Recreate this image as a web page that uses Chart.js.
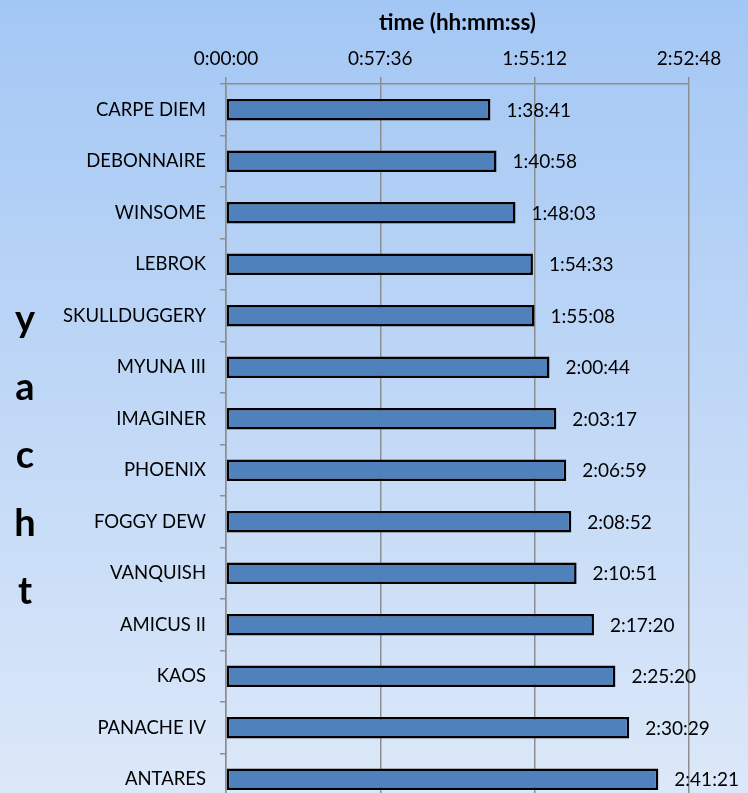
<!DOCTYPE html>
<html>
<head>
<meta charset="utf-8">
<script src="https://cdn.jsdelivr.net/npm/chart.js@4/dist/chart.umd.min.js"></script>
<style>
  html, body { margin: 0; padding: 0; overflow: hidden; width: 748px; height: 793px; background: #dce8f8; }
  #wrap { position: relative; width: 748px; height: 793px; overflow: hidden; }
  #wrap canvas { position: absolute; left: 0; top: 0; }
</style>
</head>
<body>
<div id="wrap"><canvas id="yachts" width="748" height="810"></canvas></div>
<script>
const yachts = [
  'CARPE DIEM', 'DEBONNAIRE', 'WINSOME', 'LEBROK', 'SKULLDUGGERY', 'MYUNA III', 'IMAGINER',
  'PHOENIX', 'FOGGY DEW', 'VANQUISH', 'AMICUS II', 'KAOS', 'PANACHE IV', 'ANTARES'
]
const times = [
  '1:38:41', '1:40:58', '1:48:03', '1:54:33', '1:55:08', '2:00:44', '2:03:17',
  '2:06:59', '2:08:52', '2:10:51', '2:17:20', '2:25:20', '2:30:29', '2:41:21'
]
const tickLabels = ['0:00:00', '0:57:36', '1:55:12', '2:52:48']
const axisTitleX = 'time (hh:mm:ss)'
const axisTitleY = 'yacht'

const toSeconds = (s) => s.split(':').reduce((acc, p) => acc * 60 + Number(p), 0)
const toHms = (sec) => {
  const h = Math.floor(sec / 3600)
  const m = Math.floor((sec % 3600) / 60)
  const s = Math.round(sec % 60)
  return h + ':' + String(m).padStart(2, '0') + ':' + String(s).padStart(2, '0')
}

const seconds = times.map(toSeconds)
const tickValues = tickLabels.map(toSeconds)

const FONT = 'Lato'
const GRID = '#8e8e8e'

// gradient fill behind everything
const background = {
  id: 'background',
  beforeDraw(chart) {
    const { ctx, width, height } = chart
    const g = ctx.createLinearGradient(0, 0, 0, 793)
    g.addColorStop(0, '#a3c7f4')
    g.addColorStop(1, '#dce8f9')
    ctx.save()
    ctx.fillStyle = g
    ctx.fillRect(0, 0, width, height)
    ctx.restore()
  }
}

// time labels at the end of each bar
const barLabels = {
  id: 'barLabels',
  afterDatasetsDraw(chart) {
    const { ctx } = chart
    const meta = chart.getDatasetMeta(0)
    ctx.save()
    ctx.font = '19px ' + FONT
    ctx.fillStyle = '#000'
    ctx.textAlign = 'left'
    ctx.textBaseline = 'middle'
    meta.data.forEach((bar, i) => {
      ctx.fillText(toHms(seconds[i]), bar.x + 16, bar.y + 1)
    })
    ctx.restore()
  }
}

// the y title is written as stacked letters, not rotated
const stackedTitle = {
  id: 'stackedTitle',
  afterDraw(chart) {
    const { ctx } = chart
    ctx.save()
    ctx.font = 'bold 38px ' + FONT
    ctx.fillStyle = '#000'
    ctx.textAlign = 'center'
    ctx.textBaseline = 'alphabetic'
    axisTitleY.split('').forEach((ch, i) => {
      ctx.fillText(ch, 25, 332 + i * 68)
    })
    ctx.restore()
  }
}

const ctx = document.getElementById('yachts')

const chart = new Chart(ctx, {
  type: 'bar',
  data: {
    labels: yachts,
    datasets: [{
      label: axisTitleX,
      data: seconds,
      backgroundColor: '#4f81bd',
      borderColor: '#000',
      borderWidth: 2.5,
      borderSkipped: false,
      barPercentage: 0.42,
      categoryPercentage: 1
    }]
  },
  plugins: [background, barLabels, stackedTitle],
  options: {
    indexAxis: 'y',
    responsive: false,
    devicePixelRatio: 1,
    animation: false,
    layout: { padding: { left: 0, top: 0, right: 59, bottom: 5 } },
    plugins: {
      legend: { display: false },
      tooltip: { enabled: false }
    },
    scales: {
      x: {
        position: 'top',
        min: tickValues[0],
        max: tickValues[tickValues.length - 1],
        afterBuildTicks: (scale) => { scale.ticks = tickValues.map(v => ({ value: v })) },
        afterFit: (scale) => { scale.height = 84 },
        ticks: {
          callback: (v) => toHms(v),
          font: { family: FONT, size: 19 },
          color: '#000',
          padding: 7,
          maxRotation: 0
        },
        grid: { color: GRID, lineWidth: 1.5, tickLength: 7 },
        border: { color: GRID, width: 1.5 },
        title: {
          display: true,
          text: axisTitleX,
          font: { family: FONT, size: 22.5, weight: 'bold' },
          color: '#000',
          padding: { top: 9, bottom: 0 }
        }
      },
      y: {
        afterFit: (scale) => {
          scale.width = 226
          // the plot runs off the bottom edge, so no room is kept for end labels
          scale.paddingTop = 0
          scale.paddingBottom = 0
        },
        ticks: {
          font: { family: FONT, size: 18.5 },
          color: '#000',
          padding: 14
        },
        grid: { drawOnChartArea: false, color: GRID, lineWidth: 1.5, tickLength: 6 },
        border: { color: GRID, width: 1.5 }
      }
    }
  }
})
</script>
</body>
</html>
